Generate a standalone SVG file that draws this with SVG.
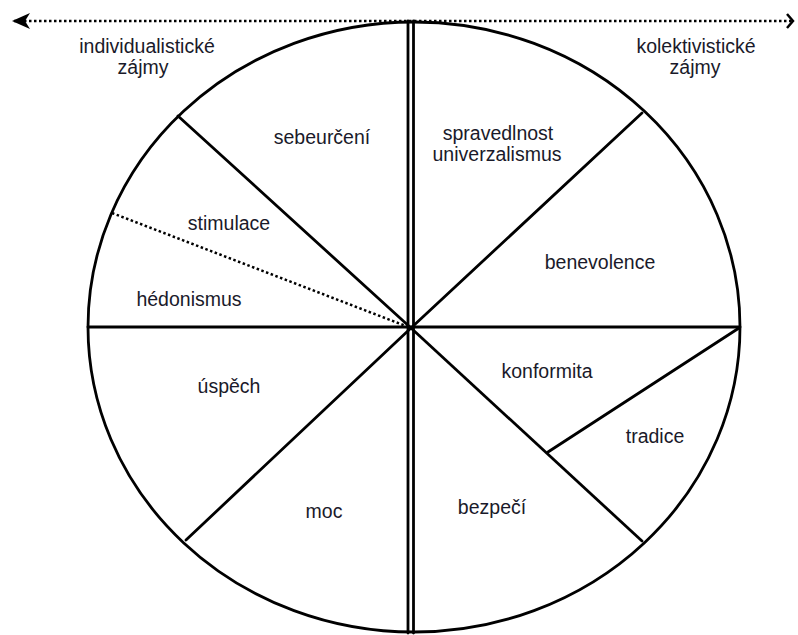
<svg xmlns="http://www.w3.org/2000/svg" width="798" height="635" viewBox="0 0 798 635">
<defs>
<style>
.ln{stroke:#000;stroke-width:2.8;fill:none;stroke-linecap:round}
.dot{stroke:#000;stroke-width:2.5;fill:none;stroke-dasharray:2.5 2.5}
text{font-family:"Liberation Sans",Arial,sans-serif;font-size:19.5px;fill:#1a1a2a;text-anchor:middle}
</style>
<marker id="ah" viewBox="0 0 20 18" refX="2" refY="9" markerWidth="20" markerHeight="18" markerUnits="userSpaceOnUse" orient="auto">
<path d="M0,9 L18,1 L13,9 L18,17 Z" fill="#000"/>
</marker>
<marker id="ah2" viewBox="0 0 10 16" refX="8" refY="8" markerWidth="10" markerHeight="16" markerUnits="userSpaceOnUse" orient="auto">
<path d="M2,1 L8,8 L2,15" fill="none" stroke="#000" stroke-width="2.5"/>
</marker>
</defs>
<rect width="798" height="635" fill="#fff"/>
<g id="connectors">
<line class="dot" x1="14" y1="21" x2="793" y2="21" marker-start="url(#ah)" marker-end="url(#ah2)"/>
<ellipse class="ln" cx="414" cy="327" rx="326" ry="305"/>
<line class="ln" x1="408" y1="21" x2="408" y2="633"/>
<line class="ln" x1="413.5" y1="21" x2="413.5" y2="633"/>
<line class="ln" x1="88" y1="327" x2="740" y2="327"/>
<line class="ln" x1="178" y1="116" x2="411" y2="328"/>
<line class="ln" x1="642" y1="113" x2="411" y2="328"/>
<line class="ln" x1="642" y1="541" x2="411" y2="328"/>
<line class="ln" x1="186" y1="540" x2="411" y2="328"/>
<line class="ln" x1="548" y1="452" x2="739" y2="328"/>
<line class="dot" x1="112" y1="213" x2="411" y2="328"/>
</g>
<g id="header-left"><text x="147" y="53">individualistické</text><text x="143" y="74">zájmy</text></g>
<g id="header-right"><text x="696" y="53">kolektivistické</text><text x="695" y="74">zájmy</text></g>
<g id="sebeurceni"><text x="322" y="144">sebeurčení</text></g>
<g id="univerzalismus"><text x="498" y="140">spravedlnost</text><text x="497" y="161">univerzalismus</text></g>
<g id="stimulace"><text x="229" y="230">stimulace</text></g>
<g id="benevolence"><text x="600" y="269">benevolence</text></g>
<g id="hedonismus"><text x="189" y="306">hédonismus</text></g>
<g id="uspech"><text x="229" y="393">úspěch</text></g>
<g id="konformita"><text x="547" y="378">konformita</text></g>
<g id="tradice"><text x="655" y="443">tradice</text></g>
<g id="moc"><text x="324" y="518">moc</text></g>
<g id="bezpeci"><text x="492" y="514">bezpečí</text></g>
</svg>
